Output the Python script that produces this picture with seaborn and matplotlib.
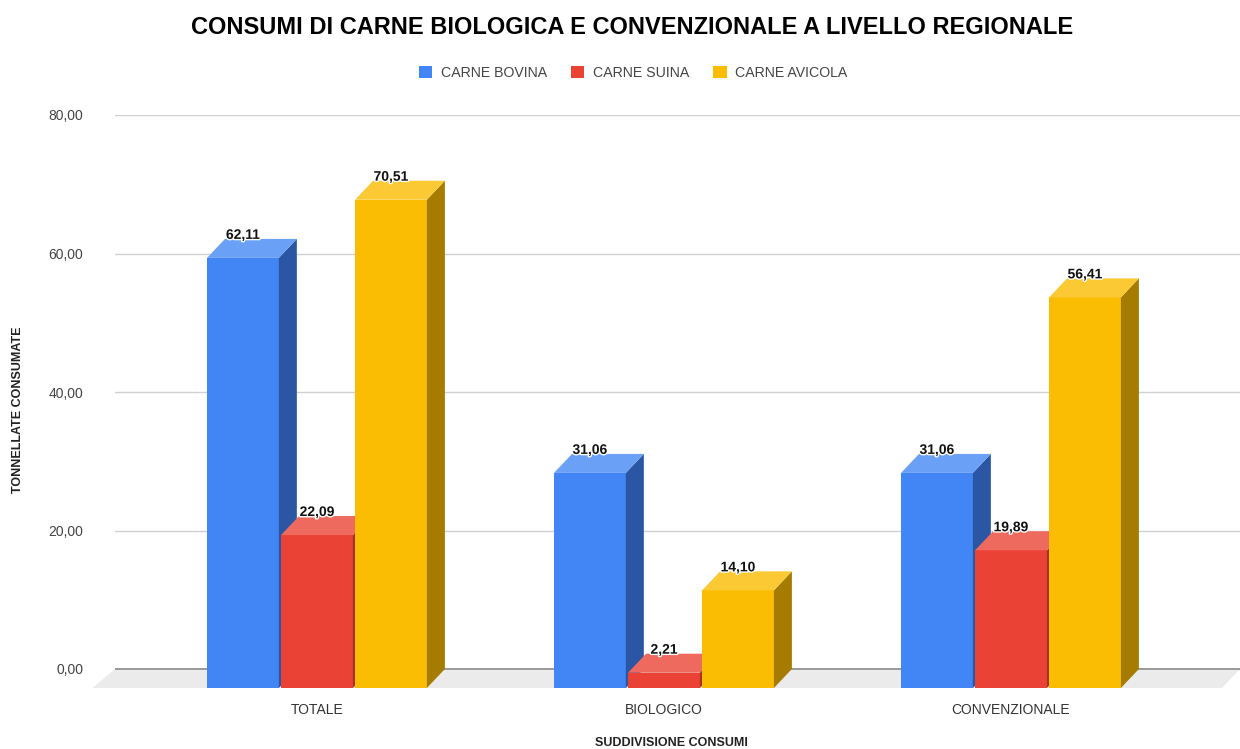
import numpy as np
import pandas as pd
import seaborn as sns
import matplotlib.pyplot as plt
from matplotlib.transforms import ScaledTranslation
from matplotlib.patches import Polygon, Patch
import matplotlib.patheffects as pe

# ---- data ----
categories = ["TOTALE", "BIOLOGICO", "CONVENZIONALE"]
series = ["CARNE BOVINA", "CARNE SUINA", "CARNE AVICOLA"]
bovina = [62.11, 31.06, 31.06]
suina = [22.09, 2.21, 19.89]
avicola = [70.51, 14.10, 56.41]
yticks = [0, 20, 40, 60, 80]

title = "CONSUMI DI CARNE BIOLOGICA E CONVENZIONALE A LIVELLO REGIONALE"
xlabel = "SUDDIVISIONE CONSUMI"
ylabel = "TONNELLATE CONSUMATE"

front_colors = ["#4285F4", "#EA4335", "#FBBC04"]
side_colors = ["#2A56A3", "#A8322A", "#A67C00"]
top_colors = ["#6AA0F6", "#EE6A5F", "#FBC933"]

rows = []
for s, vals in zip(series, [bovina, suina, avicola]):
    for c, v in zip(categories, vals):
        rows.append({"cat": c, "val": v, "serie": s})
df = pd.DataFrame(rows)

sns.set_theme(style="white")
plt.rcParams['font.family'] = ['Liberation Sans', 'DejaVu Sans']

W, H = 1240, 749
DPI = 100
fig = plt.figure(figsize=(W / DPI, H / DPI), dpi=DPI)
ax = fig.add_axes([115 / W, 1 - 700 / H, (1240 - 115) / W, (700 - 115) / H])

sns.barplot(data=df, x="cat", y="val", hue="serie", palette=front_colors,
            saturation=1, width=0.64, gap=0.03, linewidth=0, ax=ax,
            legend=False, errorbar=None)

DX, DY = 18, 19  # depth in pixels
px_per_y = 554 / 80
ax.set_ylim(-31 / px_per_y, 80)
ax.set_xlim(-0.582, 2.66)

inv = ax.transData.inverted()
p0 = inv.transform((0, 0))
p1 = inv.transform((DX, DY))
dxd, dyd = p1[0] - p0[0], p1[1] - p0[1]

shift = ax.transData + ScaledTranslation(0, -DY / DPI, fig.dpi_scale_trans)

# floor
xl0, xl1 = ax.get_xlim()
floor = Polygon([(xl0, dyd), (xl1, dyd), (xl1 - dxd, 0), (xl0 - dxd * 1.25, 0)],
                closed=True, facecolor="#ebebeb", edgecolor="none",
                transform=shift, zorder=0.7, clip_on=False)
ax.add_patch(floor)
ax.axhline(0, color="#999999", lw=1.4, zorder=0.9)

for i, cont in enumerate(ax.containers):
    z = 2 + i
    for bar in cont:
        x0 = bar.get_x()
        w = bar.get_width()
        h = bar.get_height()
        x1 = x0 + w
        bar.set_transform(shift)
        bar.set_zorder(z)
        bar.set_clip_on(False)
        sidep = Polygon([(x1, 0), (x1, h), (x1 + dxd, h + dyd), (x1 + dxd, dyd)],
                        closed=True, facecolor=side_colors[i], edgecolor="none",
                        transform=shift, zorder=z, clip_on=False)
        topp = Polygon([(x0, h), (x1, h), (x1 + dxd, h + dyd), (x0 + dxd, h + dyd)],
                       closed=True, facecolor=top_colors[i], edgecolor="none",
                       transform=shift, zorder=z, clip_on=False)
        ax.add_patch(sidep)
        ax.add_patch(topp)
        ax.text(x0 + w / 2, h, f"{h:.2f}".replace(".", ","), ha="center",
                va="baseline", fontsize=10, fontweight="bold", color="#111111",
                zorder=10,
                path_effects=[pe.withStroke(linewidth=2, foreground="white")])

ax.set_yticks(yticks)
ax.set_yticklabels([f"{v:.2f}".replace(".", ",") for v in yticks])
ax.yaxis.grid(True, color="#d0d0d0", lw=1)
ax.set_axisbelow(True)
ax.tick_params(axis="y", length=0, pad=23, labelsize=10, labelcolor="#444444")
ax.tick_params(axis="x", length=0, pad=2, labelsize=10, labelcolor="#333333")
ax.set_xlabel("")
ax.set_ylabel("")
for sp in ax.spines.values():
    sp.set_visible(False)

fig.text(632 / W, 1 - 28 / H, title, ha="center", va="center", fontsize=17,
         fontweight="bold", color="#000000")
fig.text(18 / W, 1 - 410 / H, ylabel, ha="center", va="center", rotation=90,
         fontsize=9, fontweight="bold", color="#222222")
fig.text(671 / W, 1 - 743 / H, xlabel, ha="center", va="center",
         fontsize=9, fontweight="bold", color="#222222")

handles = [Patch(facecolor=c, edgecolor="none") for c in front_colors]
fig.legend(handles, series, loc="center", bbox_to_anchor=(633 / W, 1 - 73 / H),
           ncol=3, frameon=False, fontsize=10.2, handlelength=0.95,
           handleheight=0.95, handletextpad=0.6, columnspacing=1.7,
           labelcolor="#444444")

fig.savefig("out.png", dpi=DPI)
